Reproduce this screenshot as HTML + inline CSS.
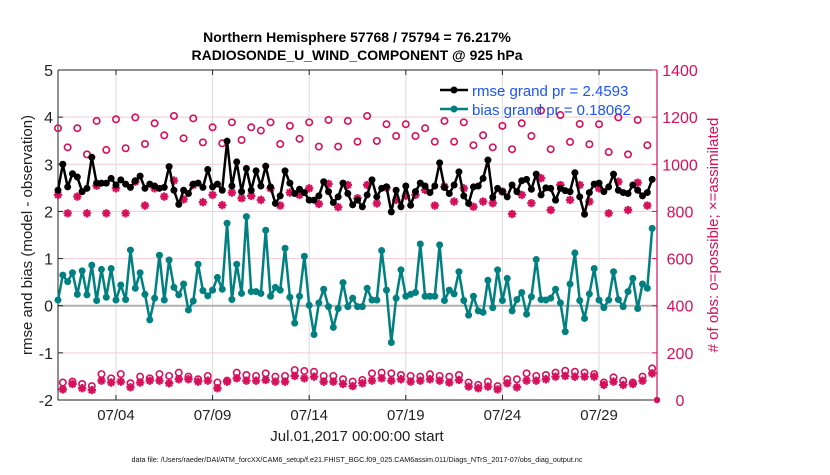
<!DOCTYPE html>
<html><head><meta charset="utf-8"><style>
html,body{margin:0;padding:0;background:#fff;}
svg text{font-family:"Liberation Sans",Arial,sans-serif;}
</style></head><body>
<svg id="chart" width="830" height="470" viewBox="0 0 830 470" xmlns="http://www.w3.org/2000/svg">
<text x="357" y="42" text-anchor="middle" font-size="14" font-weight="bold">Northern Hemisphere 57768 / 75794 = 76.217%</text>
<text x="357" y="60" text-anchor="middle" font-size="14" font-weight="bold">RADIOSONDE_U_WIND_COMPONENT @ 925 hPa</text>
<g id="grid"></g>
<g id="axes"></g>
<g id="marks"></g>
<text transform="translate(32,235) rotate(-90)" text-anchor="middle" font-size="15" fill="#222">rmse and bias (model - observation)</text>
<text transform="translate(718,235) rotate(-90)" text-anchor="middle" font-size="15" fill="#d6105a"># of obs: o=possible; ×=assimilated</text>
<text x="357" y="441" text-anchor="middle" font-size="15" fill="#222">Jul.01,2017 00:00:00 start</text>
<text x="357" y="462" text-anchor="middle" font-size="7.2" fill="#111">data file: /Users/raeder/DAI/ATM_forcXX/CAM6_setup/f.e21.FHIST_BGC.f09_025.CAM6assim.011/Diags_NTrS_2017-07/obs_diag_output.nc</text>
<g>
<line x1="440" y1="90" x2="468" y2="90" stroke="#000" stroke-width="2.5"/><circle cx="454" cy="90" r="3.5" fill="#000"/>
<text x="472" y="96" font-size="15" fill="#1a53ff">rmse grand pr = 2.4593</text>
<line x1="440" y1="109" x2="468" y2="109" stroke="#008080" stroke-width="2.5"/><circle cx="454" cy="109" r="3.5" fill="#008080"/>
<text x="472" y="115" font-size="15" fill="#1a53ff">bias grand pr = 0.18062</text>
</g>
</svg>
<script>
const leftTicks = [-2,-1,0,1,2,3,4,5];
const rightTicks = [0,200,400,600,800,1000,1200,1400];
const dateTickDays = [3,8,13,18,23,28];
const dateTickLabels = ["07/04","07/09","07/14","07/19","07/24","07/29"];
const rmse = [2.45,3.0,2.52,2.8,2.73,2.42,2.49,3.15,2.6,2.6,2.6,2.7,2.56,2.67,2.58,2.51,2.65,2.75,2.49,2.58,2.54,2.49,2.51,2.95,2.45,2.15,2.45,2.38,2.58,2.6,2.51,2.89,2.52,2.58,2.45,3.49,2.54,3.05,2.42,2.91,2.45,2.86,2.54,
2.96,2.52,2.17,2.33,2.86,2.6,2.38,2.47,2.4,2.24,2.24,2.33,2.63,2.42,2.19,2.31,2.6,2.38,2.14,2.24,2.1,2.35,2.67,2.31,2.49,2.52,1.99,2.45,2.1,2.54,2.13,2.42,2.6,2.54,2.4,2.54,3.03,2.51,2.38,2.56,2.84,
2.33,2.17,2.52,2.54,2.7,3.09,2.3,2.49,2.42,2.31,2.56,2.42,2.65,2.68,2.47,2.79,2.35,2.5,2.49,2.24,2.49,2.44,2.42,2.82,2.31,1.94,2.4,2.58,2.6,2.42,2.52,2.79,2.45,2.4,2.38,2.56,2.45,2.33,2.4,2.68];
const bias = [0.12,0.65,0.51,0.7,0.24,0.74,0.23,0.86,0.11,0.77,0.18,0.79,0.12,0.44,0.13,1.18,0.37,0.7,0.24,-0.3,0.16,1.07,0.12,0.97,0.39,0.23,0.46,-0.09,0.1,0.88,0.32,0.21,0.33,0.6,0.35,1.75,0.13,0.88,0.26,1.89,0.3,0.3,0.26,
1.6,0.2,0.39,0.33,1.22,0.18,-0.37,0.2,1.05,0.01,-0.61,0.06,0.35,-0.02,-0.46,-0.06,0.49,-0.02,0.16,-0.02,-0.02,0.37,0.12,0.12,1.17,0.33,-0.78,0.16,0.76,0.2,0.24,0.28,1.31,0.2,0.2,0.2,1.29,0.11,0.33,0.25,0.72,
0.11,-0.2,0.2,-0.11,-0.14,0.54,-0.04,0.76,0.11,0.58,-0.11,0.13,0.28,-0.18,0.19,0.98,0.13,0.12,0.16,0.35,0.06,-0.55,0.46,1.12,0.11,-0.27,0.25,0.79,0.12,-0.04,0.12,0.72,0.13,-0.02,0.3,0.58,-0.06,0.46,0.37,1.64];
// 00Z/12Z (even steps)
const possibleMain = [1153,1072,1153,1042,1184,1061,1191,1068,1199,1086,1174,1123,1205,1110,1195,1093,1157,1089,1178,1103,1157,1143,
1178,1086,1163,1108,1178,1075,1188,1075,1184,1096,1205,1099,1170,1120,1170,1120,1153,1096,1184,1096,
1178,1081,1123,1072,1163,1064,1174,1120,1228,1064,1209,1095,1171,1085,1170,1052,1199,1042,1188,1081];
const assimMain = [870,792,863,792,909,792,898,792,926,825,898,863,931,851,912,839,870,827,880,856,866,849,
898,825,880,870,898,832,917,818,912,856,912,834,901,849,866,870,891,825,905,842,
898,820,842,835,884,789,870,835,941,806,912,849,912,842,898,792,926,806,922,825];
// 06Z/18Z (odd steps)
const possibleOff = [74,78,68,59,110,92,110,71,99,92,110,102,116,99,88,102,74,82,116,106,102,
113,99,102,127,123,120,102,102,88,78,85,113,116,113,106,102,99,109,102,99,106,
74,64,78,59,88,88,113,102,106,116,124,120,116,110,74,96,82,74,99,134,0];
const assimOff = [45,68,50,42,82,74,78,54,74,82,82,71,88,88,78,82,50,78,92,82,82,
85,78,78,102,92,99,78,78,68,59,71,82,92,82,88,78,82,88,82,74,85,
57,50,57,45,71,54,82,82,88,99,102,99,99,99,64,78,64,68,82,113,0];

const NS='http://www.w3.org/2000/svg';
const X0=58,X1=657,Y0=70,Y1=400,DAYS=31;
const PINK='#d6105a',TEAL='#008080';
const xs=d=>X0+(d/DAYS)*(X1-X0);
const yl=v=>Y1-(v+2)/7*(Y1-Y0);
const yr=n=>Y1-n/1400*(Y1-Y0);
function mk(tag,attrs,parent){const e=document.createElementNS(NS,tag);for(const k in attrs)e.setAttribute(k,attrs[k]);parent.appendChild(e);return e;}
const grid=document.getElementById('grid'),axes=document.getElementById('axes'),marks=document.getElementById('marks');
leftTicks.forEach(v=>{if(v>-2&&v<5&&v!==0){const l=mk('line',{x1:X0,x2:X1,y1:yl(v),y2:yl(v),stroke:'#f3c9d8','stroke-width':1},grid);

}});
dateTickDays.forEach((d,i)=>{const l=mk('line',{x1:xs(d),x2:xs(d),y1:Y0,y2:Y1,stroke:'#dcdcdc','stroke-width':1},grid);


const t=mk('text',{x:xs(d),y:Y1+20,'text-anchor':'middle','font-size':15,fill:'#222'},axes);t.textContent=dateTickLabels[i];


mk('line',{x1:xs(d),x2:xs(d),y1:Y1,y2:Y1-5,stroke:'#222'},axes);
mk('line',{x1:xs(d),x2:xs(d),y1:Y0,y2:Y0+5,stroke:'#222'},axes);});
const z=mk('line',{x1:X0,x2:X1,y1:yl(0),y2:yl(0),stroke:'#b0b0b0','stroke-width':2},grid);


mk('path',{d:`M${X0},${Y0}H${X1}M${X0},${Y0}V${Y1}H${X1}`,stroke:'#222',fill:'none','stroke-width':1},axes);
mk('line',{x1:X1,x2:X1,y1:Y0,y2:Y1,stroke:PINK,'stroke-width':1.2},axes);
leftTicks.forEach(v=>{const t=mk('text',{x:X0-5,y:yl(v)+6,'text-anchor':'end','font-size':16,fill:'#222'},axes);t.textContent=v;


mk('line',{x1:X0,x2:X0+5,y1:yl(v),y2:yl(v),stroke:'#222'},axes);});
rightTicks.forEach(v=>{const t=mk('text',{x:680,y:yr(v)+6,'text-anchor':'middle','font-size':16,fill:PINK},axes);t.textContent=v;


mk('line',{x1:X1,x2:X1-5,y1:yr(v),y2:yr(v),stroke:PINK},axes);});

function star(x,y,g){const r=4.2;let d='';for(let k=0;k<4;k++){const a=k*Math.PI/4;d+=`M${x-r*Math.cos(a)},${y-r*Math.sin(a)}L${x+r*Math.cos(a)},${y+r*Math.sin(a)}`;}
const p=mk('path',{d:d,stroke:PINK,'stroke-width':2.2,fill:'none'},g);

}
function circ(x,y,g){const c=mk('circle',{cx:x,cy:y,r:3.2,fill:'none',stroke:PINK,'stroke-width':1.6},g);

}
const obsG=mk('g',{},marks);


possibleMain.forEach((n,i)=>circ(xs(i*0.5),yr(n),obsG));
assimMain.forEach((n,i)=>star(xs(i*0.5),yr(n),obsG));
possibleOff.forEach((n,i)=>{if(n>0)circ(xs(i*0.5+0.25),yr(n),obsG);});
assimOff.forEach((n,i)=>{const x=xs(i*0.5+0.25);if(n>0)star(x,yr(n),obsG);else{const c=mk('circle',{cx:Math.min(x,X1),cy:yr(n),r:3.2,fill:PINK},obsG);

}});
function series(vals,color,name){const g=mk('g',{},marks);


const pts=vals.map((v,i)=>`${xs(i*0.25).toFixed(1)},${yl(v).toFixed(1)}`).join(' ');
mk('polyline',{points:pts,fill:'none',stroke:color,'stroke-width':2.5,'stroke-linejoin':'round'},g);
vals.forEach((v,i)=>{const c=mk('circle',{cx:xs(i*0.25),cy:yl(v),r:3.5,fill:color},g);

});}
series(bias,TEAL,'bias-series');
series(rmse,'#000','rmse-series');
</script>
</body></html>
